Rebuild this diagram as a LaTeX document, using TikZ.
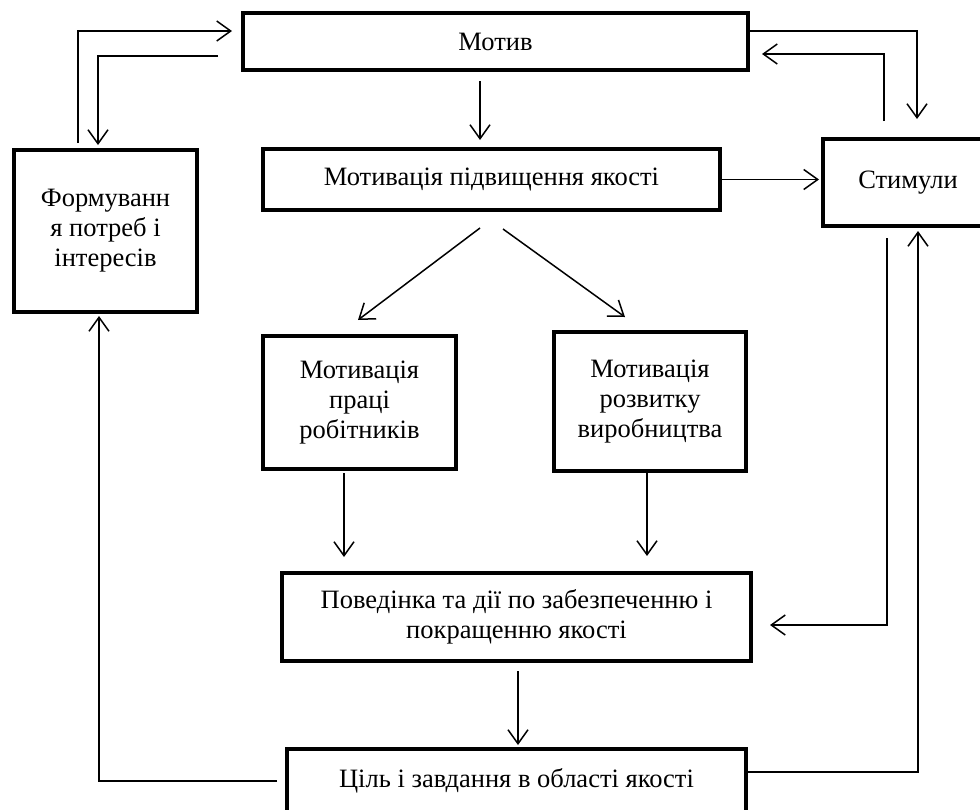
\documentclass[tikz,border=0pt]{standalone}
\usepackage{fontspec}
\setmainfont{Liberation Serif}
\usetikzlibrary{arrows.meta}
\begin{document}
\begin{tikzpicture}[x=1pt,y=-1pt,
  box/.style={draw,line width=4pt,align=center,inner sep=0pt,
    font=\fontsize{26.5}{30}\selectfont},
  conn/.style={line width=1.5pt},
  arr/.style={conn,-{Straight Barb[length=14pt,width=20pt,line width=1.5pt]}}]
\useasboundingbox (0,0) rectangle (980,809);
% boxes
\node[box,minimum width=505pt,minimum height=57pt] (motiv) at (495.5,41.5) {Мотив};
\node[box,minimum width=457pt,minimum height=61pt] (mpy) at (491.5,179.5) {Мотивація підвищення якості};
\node[box,minimum width=170pt,minimum height=87pt] (stim) at (908,182.5) {Стимули};
\node[box,minimum width=183pt,minimum height=162pt] (form) at (105.5,231) {Формуванн\\я потреб і\\інтересів};
\node[box,minimum width=193pt,minimum height=133pt] (mpr) at (359.5,402.5) {Мотивація\\праці\\робітників};
\node[box,minimum width=192pt,minimum height=139pt] (mrv) at (650,401.5) {Мотивація\\розвитку\\виробництва};
\node[box,minimum width=469pt,minimum height=88pt] (pov) at (516.5,617) {Поведінка та дії по забезпеченню і\\покращенню якості};
\node[box,minimum width=459pt,minimum height=64pt] (cil) at (516.5,781) {Ціль і завдання в області якості};
% coordinates
\coordinate (a1) at (78,143);  \coordinate (a2) at (78,31);   \coordinate (a3) at (232,31);
\coordinate (b1) at (218,56);  \coordinate (b2) at (98,56);   \coordinate (b3) at (98,145);
\coordinate (c1) at (917,31);  \coordinate (c2) at (917,119);
\coordinate (d1) at (884,121); \coordinate (d2) at (884,54);  \coordinate (d3) at (762,54);
\coordinate (e1) at (887,238); \coordinate (e2) at (887,625); \coordinate (e3) at (770,625);
\coordinate (f1) at (918,772); \coordinate (f2) at (918,231);
\coordinate (g0) at (277,781); \coordinate (g1) at (99,781);  \coordinate (g2) at (99,316);
\coordinate (m1) at (480,81);  \coordinate (m2) at (480,140);
\coordinate (l1) at (480,228); \coordinate (l2) at (358,320);
\coordinate (r1) at (503,229); \coordinate (r2) at (625,317);
\coordinate (p1) at (344,473); \coordinate (p2) at (344,557);
\coordinate (q1) at (647,473); \coordinate (q2) at (647,556);
\coordinate (s1) at (518,671); \coordinate (s2) at (518,745);
% connectors
\draw[arr] (a1) -- (a2) -- (a3);
\draw[arr] (b1) -- (b2) -- (b3);
\draw[arr] (motiv.east |- c1) -- (c1) -- (c2);
\draw[arr] (d1) -- (d2) -- (d3);
\draw[arr] (e1) -- (e2) -- (e3);
\draw[arr] (cil.east |- f1) -- (f1) -- (f2);
\draw[arr] (g0) -- (g1) -- (g2);
\draw[arr] (m1) -- (m2);
\draw[arr] (l1) -- (l2);
\draw[arr] (r1) -- (r2);
\draw[arr] (p1) -- (p2);
\draw[arr] (q1) -- (q2);
\draw[arr] (s1) -- (s2);
\draw[arr,shorten >=2pt] (mpy.east) -- (stim.west |- mpy.east);
\end{tikzpicture}
\end{document}
